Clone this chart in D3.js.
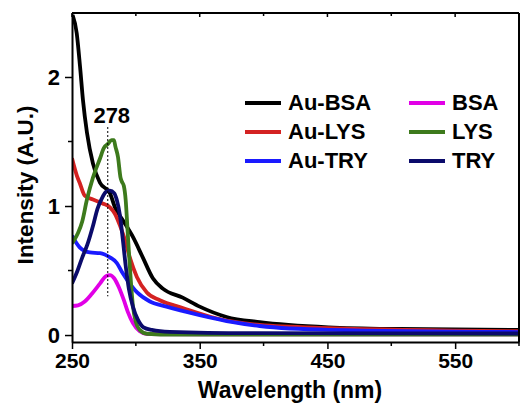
<!DOCTYPE html>
<html>
<head>
<meta charset="utf-8">
<script src="https://cdn.jsdelivr.net/npm/d3@7"></script>
<style>
  body { margin: 0; background: #fff; }
  text { font-family: Arial, "Liberation Sans", sans-serif; font-weight: bold; fill: #000; }
</style>
</head>
<body>
<div id="app"></div>
<script>
// Data: [wavelength nm, intensity]
const auBSA = [[250.5,2.48],[253.7,2.34],[256.3,2.08],[258.6,1.82],[261.7,1.57],[266.4,1.33],[271.9,1.18],[279.7,1.10],[283.6,0.99],[289.8,0.89],[297.7,0.76],[305.5,0.60],[313.3,0.44],[321.1,0.36],[336.7,0.29],[350,0.22],[371,0.14],[397,0.10],[451,0.06],[506,0.047],[600,0.04]];
const auLYS = [[250,1.37],[254,1.23],[256,1.18],[260,1.08],[266.4,1.05],[274,1.02],[279.7,0.99],[283.6,0.94],[287.5,0.85],[291.4,0.74],[295.3,0.60],[300.8,0.45],[308.6,0.33],[318.8,0.27],[336.7,0.21],[363,0.13],[397,0.078],[451,0.054],[600,0.03]];
const auTRY = [[250,0.77],[256,0.68],[264,0.64],[272,0.635],[280,0.60],[285,0.56],[289,0.49],[293,0.43],[301,0.33],[311,0.26],[324,0.22],[350,0.155],[376,0.10],[397,0.07],[451,0.04],[600,0.023]];
const bsa = [[250,0.225],[254.7,0.23],[260,0.26],[265.6,0.32],[272,0.40],[276.6,0.457],[279.7,0.465],[283,0.44],[286.7,0.37],[290.6,0.27],[293.7,0.18],[297.7,0.093],[303,0.03],[309,0.008],[350,0.005],[600,0.005]];
const lys = [[250,0.71],[252,0.74],[254.7,0.79],[258,0.88],[261.7,1.05],[266.4,1.22],[272,1.37],[275,1.45],[278,1.48],[281,1.51],[282.8,1.51],[284,1.46],[286,1.38],[288,1.22],[289,1.19],[290.6,1.155],[292,1.05],[293.7,0.78],[295.3,0.53],[297.7,0.225],[300,0.10],[303,0.04],[308.6,0.01],[330,0.003],[600,0.003]];
const tryp = [[250,0.40],[254,0.49],[258,0.60],[262,0.70],[266.4,0.845],[270,0.98],[273.4,1.06],[276.6,1.11],[279.7,1.12],[283,1.10],[285,1.05],[287.5,0.93],[289.8,0.74],[292,0.54],[294.5,0.36],[297.7,0.22],[301.6,0.12],[306,0.06],[312.5,0.04],[326.6,0.025],[389,0.015],[600,0.012]];

const seriesNames = ["Au-BSA", "Au-LYS", "Au-TRY", "BSA", "LYS", "TRY"];
const seriesData = [auBSA, auLYS, auTRY, bsa, lys, tryp];
const seriesColors = ["#000000", "#d42222", "#1a1aff", "#e100e6", "#3d7a1c", "#0b0b6b"];
const xTicks = [250, 350, 450, 550];
const xMinor = [300, 400, 500, 600];
const yTicks = [0, 1, 2];
const yMinor = [0.5, 1.5];
const peak = 278;

const width = 520, height = 405;
const margin = { left: 72, right: 1, top: 13, bottom: 63 };

const x = d3.scaleLinear().domain([250, 600]).range([margin.left, width - margin.right]);
const y = d3.scaleLinear().domain([-0.054, 2.496]).range([height - margin.bottom, margin.top]);

const svg = d3.select("#app").append("svg")
  .attr("width", width).attr("height", height);

svg.append("defs").append("clipPath").attr("id", "clip")
  .append("rect")
  .attr("x", margin.left).attr("y", margin.top)
  .attr("width", width - margin.right - margin.left)
  .attr("height", height - margin.bottom - margin.top);

// curves
const line = d3.line().x(d => x(d[0])).y(d => y(d[1])).curve(d3.curveMonotoneX);
svg.append("g").attr("clip-path", "url(#clip)")
  .selectAll("path")
  .data(seriesData)
  .enter()
  .append("path")
  .attr("d", line)
  .attr("fill", "none")
  .attr("stroke", (d, i) => seriesColors[i])
  .attr("stroke-width", 3.8)
  .attr("stroke-linejoin", "round");

// dotted marker at the peak
svg.append("line")
  .attr("x1", x(peak)).attr("x2", x(peak))
  .attr("y1", 127).attr("y2", y(0.3))
  .attr("stroke", "#000").attr("stroke-width", 1)
  .attr("stroke-dasharray", "2,2");
svg.append("text")
  .text(peak)
  .attr("x", x(peak) + 4).attr("y", 123)
  .attr("text-anchor", "middle")
  .style("font-size", "22px");

// axes
const xAxis = d3.axisBottom(x).tickValues(xTicks).tickSize(7).tickSizeOuter(0).tickPadding(4);
const yAxis = d3.axisLeft(y).tickValues(yTicks).tickSize(7).tickSizeOuter(0).tickPadding(5)
  .tickFormat(d3.format("d"));

const gx = svg.append("g")
  .attr("transform", `translate(0, ${height - margin.bottom})`)
  .call(xAxis);
gx.selectAll("text").style("font-size", "21px");
gx.append("g").selectAll("line").data(xMinor).enter().append("line")
  .attr("x1", d => x(d)).attr("x2", d => x(d)).attr("y1", 0).attr("y2", 4)
  .attr("stroke", "#000").attr("stroke-width", 1.5);

const gy = svg.append("g")
  .attr("transform", `translate(${margin.left}, 0)`)
  .call(yAxis);
gy.selectAll("text").style("font-size", "22px");
gy.append("g").selectAll("line").data(yMinor).enter().append("line")
  .attr("y1", d => y(d)).attr("y2", d => y(d)).attr("x1", 0).attr("x2", -4)
  .attr("stroke", "#000").attr("stroke-width", 1.5);

[gx, gy].forEach(g => {
  g.select(".domain").attr("stroke-width", 2);
  g.selectAll(".tick line").attr("stroke-width", 1.5);
});

// top and right frame
svg.append("line")
  .attr("x1", margin.left).attr("x2", width - margin.right)
  .attr("y1", margin.top).attr("y2", margin.top)
  .attr("stroke", "#000").attr("stroke-width", 2);
svg.append("line")
  .attr("x1", width - margin.right).attr("x2", width - margin.right)
  .attr("y1", margin.top).attr("y2", height - margin.bottom)
  .attr("stroke", "#000").attr("stroke-width", 2);
svg.append("g").selectAll("line").data(xTicks.concat(xMinor)).enter().append("line")
  .attr("x1", d => x(d)).attr("x2", d => x(d))
  .attr("y1", margin.top).attr("y2", d => margin.top + (xTicks.includes(d) ? 4 : 3))
  .attr("stroke", "#000").attr("stroke-width", 1.5);

// axis titles
svg.append("text")
  .text("Wavelength (nm)")
  .attr("x", 290).attr("y", 398)
  .attr("text-anchor", "middle")
  .style("font-size", "23px");
svg.append("text")
  .text("Intensity (A.U.)")
  .attr("transform", "translate(33, 185) rotate(-90)")
  .attr("text-anchor", "middle")
  .style("font-size", "22.5px");

// legend
const legend = svg.append("g");
seriesNames.forEach((name, i) => {
  const col = Math.floor(i / 3), row = i % 3;
  const lx = col === 0 ? 245 : 409;
  const ly = 103 + row * 29;
  legend.append("line")
    .attr("x1", lx).attr("x2", lx + 36)
    .attr("y1", ly).attr("y2", ly)
    .attr("stroke", seriesColors[i]).attr("stroke-width", 4);
  legend.append("text")
    .text(name)
    .attr("x", lx + 43).attr("y", ly + 7)
    .style("font-size", "22px");
});
</script>
</body>
</html>
